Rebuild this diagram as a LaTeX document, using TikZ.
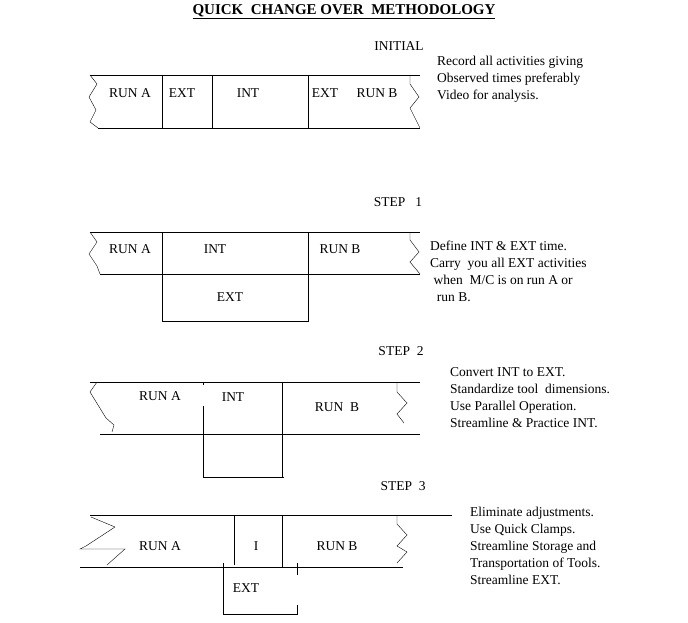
\documentclass[tikz,border=0pt]{standalone}
\usepackage{fontspec}
\setmainfont{Liberation Serif}
\usetikzlibrary{positioning}
\tikzstyle{lbl} = [font=\fontsize{13.5}{15}\selectfont, inner sep=0pt]
\tikzstyle{note} = [font=\fontsize{13.5}{17}\selectfont, align=left, anchor=north west, inner sep=0pt]
\tikzstyle{bar} = [thin]
\begin{document}
\begin{tikzpicture}[x=1pt,y=-1pt]
	\useasboundingbox (0,0) rectangle (688,623);
	% title
	\node (title) [lbl, font=\fontsize{15}{17}\selectfont\bfseries] at (344,12) {\underline{QUICK\ \ CHANGE OVER\ \ METHODOLOGY}};
	
	% initial
	\node (initial) [lbl] at (399,46) {INITIAL};
	\draw [bar] (90,75) -- (420,75);
	\draw [bar] (98,128) -- (420,128);
	\draw [bar] (90,75) -- (97,84) -- (89,97) -- (96,110) -- (90,122) -- (98,128);
	\draw [bar] (410,75) -- (410,84) -- (419,97) -- (410,108) -- (420,128);
	\foreach \x in {162,212,308} \draw [bar] (\x,75) -- (\x,128);
	\node (i-runa) [lbl] at (130,93) {RUN A};
	\node (i-ext1) [lbl] at (182,93) {EXT};
	\node (i-int) [lbl] at (248,93) {INT};
	\node (i-ext2) [lbl] at (325,93) {EXT};
	\node (i-runb) [lbl] at (377,93) {RUN B};
	\node (i-note) [note] at (437,56) {Record all activities giving\\ Observed times preferably\\ Video for analysis.};
	
	% step 1
	\node (step1) [lbl] at (398,202) {STEP\ \ \ 1};
	\draw [bar] (90,232) -- (420,232);
	\draw [bar] (100,274) -- (420,274);
	\draw [bar] (90,232) -- (97,242) -- (89,254) -- (97,266) -- (100,274);
	\draw [bar] (410,232) -- (410,240) -- (419,252) -- (410,262) -- (420,274);
	\draw [bar] (162,232) -- (162,321) -- (308,321) -- (308,232);
	\node (s1-runa) [lbl] at (130,249) {RUN A};
	\node (s1-int) [lbl] at (215,249) {INT};
	\node (s1-runb) [lbl] at (340,249) {RUN B};
	\node (s1-ext) [lbl] at (230,297) {EXT};
	\node (s1-note) [note] at (430,241) {Define INT \& EXT time.\\ Carry\ \ you all EXT activities\\ \ when\ \ M/C is on run A or\\ \ \ run B.};
	
	% step 2
	\node (step2) [lbl] at (401,351) {STEP\ \ 2};
	\draw [bar] (90,382) -- (420,382);
	\draw [bar] (100,434) -- (420,434);
	\draw [bar] (97,382) -- (90,392) -- (106,418) -- (114,425) -- (112,432);
	\draw [bar] (397,382) -- (397,392) -- (407,403) -- (397,414) -- (404,423);
	\draw [bar] (203,382) -- (203,385);
	\draw [bar] (203,406) -- (203,477) -- (284,477);
	\draw [bar] (282,382) -- (282,477);
	\node (s2-runa) [lbl] at (160,396) {RUN A};
	\node (s2-int) [lbl] at (233,397) {INT};
	\node (s2-runb) [lbl] at (337,407) {RUN\ \ B};
	\node (s2-note) [note] at (450,367) {Convert INT to EXT.\\ Standardize tool\ \ dimensions.\\ Use Parallel Operation.\\ Streamline \& Practice INT.};
	
	% step 3
	\node (step3) [lbl] at (403,486) {STEP\ \ 3};
	\draw [bar] (90,515) -- (452,515);
	\draw [bar] (80,567) -- (403,567);
	\draw [bar] (91,517) -- (115,527) -- (86,546) -- (80,549) -- (125,549) -- (107,565);
	\draw [bar] (397,515) -- (397,524) -- (407,535) -- (397,546) -- (407,552) -- (397,563);
	\draw [bar] (234,515) -- (234,565);
	\draw [bar] (282,515) -- (282,567);
	\draw [bar] (223,563) -- (223,614) -- (297,614) -- (297,605);
	\draw [bar] (297,563) -- (297,575);
	\node (s3-runa) [lbl] at (160,546) {RUN A};
	\node (s3-i) [lbl] at (256,546) {I};
	\node (s3-runb) [lbl] at (337,546) {RUN B};
	\node (s3-ext) [lbl] at (246,588) {EXT};
	\node (s3-note) [note] at (470,507) {Eliminate adjustments.\\ Use Quick Clamps.\\ Streamline Storage and\\ Transportation of Tools.\\ Streamline EXT.};
\end{tikzpicture}
\end{document}
